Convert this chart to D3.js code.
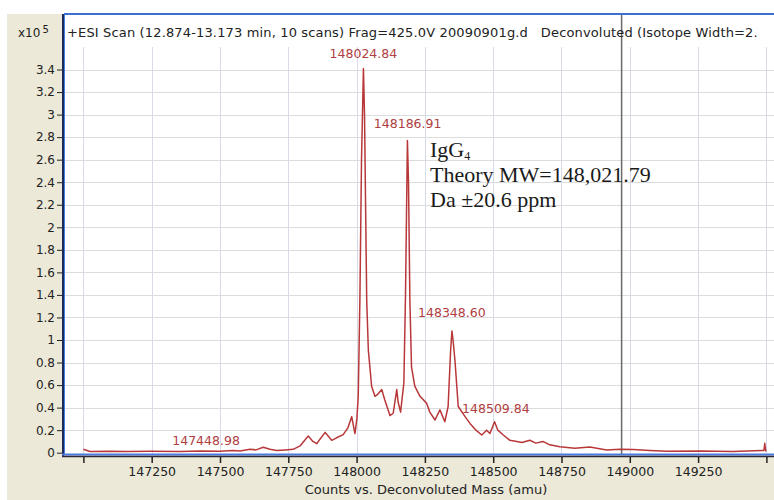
<!DOCTYPE html>
<html>
<head>
<meta charset="utf-8">
<script src="https://cdn.jsdelivr.net/npm/d3@7"></script>
<style>
  body { margin: 0; background: #fff; }
  svg { display: block; }
</style>
</head>
<body>
<div id="viz"></div>
<script>
// deconvoluted mass spectrum, intensity in units of 10^5 counts
const mass = [
  147000, 147024, 147097, 147158, 147244, 147354, 147427, 147500, 147548, 147573,
  147610, 147632, 147658, 147683, 147707, 147738, 147768, 147793, 147823, 147840,
  147854, 147866, 147885, 147909, 147925, 147951, 147968, 147982, 147994, 148001,
  148006, 148012, 148018, 148025, 148029, 148037, 148043, 148055, 148067, 148078,
  148092, 148103, 148122, 148134, 148147, 148152, 148161, 148173, 148179, 148186,
  148190, 148195, 148201, 148213, 148232, 148256, 148268, 148287, 148305, 148323,
  148335, 148344, 148349, 148353, 148360, 148372, 148397, 148415, 148437, 148458,
  148476, 148488, 148505, 148517, 148537, 148561, 148586, 148605, 148634, 148656,
  148682, 148707, 148744, 148799, 148854, 148915, 148964, 149012, 149074, 149135,
  149257, 149378, 149483, 149491, 149494, 149498
];
const counts = [
  0.03, 0.01, 0.012, 0.01, 0.012, 0.01, 0.014, 0.012, 0.02, 0.016,
  0.03, 0.025, 0.048, 0.03, 0.02, 0.025, 0.03, 0.06, 0.148, 0.1,
  0.08, 0.12, 0.18, 0.11, 0.13, 0.16, 0.22, 0.32, 0.17, 0.3,
  0.5, 1.35, 2.6, 3.41, 3.0, 1.35, 0.91, 0.59, 0.5, 0.52,
  0.56, 0.47, 0.33, 0.35, 0.56, 0.45, 0.36, 0.62, 1.4, 2.77,
  2.4, 1.35, 0.76, 0.59, 0.5, 0.44, 0.36, 0.29, 0.38, 0.275,
  0.41, 0.9, 1.08, 1.0, 0.82, 0.41, 0.32, 0.26, 0.2, 0.157,
  0.2, 0.17, 0.275, 0.2, 0.157, 0.11, 0.1, 0.09, 0.11, 0.085,
  0.1, 0.07, 0.053, 0.04, 0.05, 0.024, 0.03, 0.028, 0.02, 0.012,
  0.015, 0.01, 0.02, 0.02, 0.083, 0.01
];

// labelled peaks
const peakMass = [147448.98, 148024.84, 148186.91, 148348.60, 148509.84];
const peakLabel = ["147448.98", "148024.84", "148186.91", "148348.60", "148509.84"];
const peakLabelY = [0.07, 3.5, 2.88, 1.2, 0.35];

const xTicks = [147000, 147250, 147500, 147750, 148000, 148250, 148500, 148750, 149000, 149250, 149500];
const xTickLabels = ["", "147250", "147500", "147750", "148000", "148250", "148500", "148750", "149000", "149250", ""];
const yTicks = [0, 0.2, 0.4, 0.6, 0.8, 1, 1.2, 1.4, 1.6, 1.8, 2, 2.2, 2.4, 2.6, 2.8, 3, 3.2, 3.4];
const cursorMass = 148970;

const title = "+ESI Scan (12.874-13.173 min, 10 scans) Frag=425.0V 20090901g.d   Deconvoluted (Isotope Width=2.";
const xTitle = "Counts vs. Deconvoluted Mass (amu)";

const W = 774, H = 500;
const plot = {left: 64, top: 14, right: 774, bottom: 455};

const svg = d3.select("#viz").append("svg")
    .attr("width", W)
    .attr("height", H)
    .style("font-family", "'DejaVu Sans', sans-serif");

const x = d3.scaleLinear().domain([147000, 149500]).range([83.4, 766.4]);
const y = d3.scaleLinear().domain([0, 1]).range([452.7, 340]);

// panel backgrounds
svg.append("rect").attr("x", 7).attr("y", plot.top).attr("width", W - 7).attr("height", H - plot.top)
    .attr("fill", "#ece9d8");
svg.append("rect").attr("x", plot.left).attr("y", plot.top)
    .attr("width", plot.right - plot.left).attr("height", plot.bottom - plot.top)
    .attr("fill", "#fff");

svg.append("defs").append("clipPath").attr("id", "clip")
  .append("rect").attr("x", plot.left).attr("y", plot.top)
    .attr("width", plot.right - plot.left).attr("height", plot.bottom - plot.top);

// grid
svg.append("g").selectAll("line").data(yTicks.filter(d => d > 0)).join("line")
    .attr("x1", plot.left).attr("x2", plot.right)
    .attr("y1", d => Math.round(y(d)) + 0.5).attr("y2", d => Math.round(y(d)) + 0.5)
    .attr("stroke", "#dcdcdc");
svg.append("g").selectAll("line").data(xTicks).join("line")
    .attr("x1", d => Math.round(x(d)) + 0.5).attr("x2", d => Math.round(x(d)) + 0.5)
    .attr("y1", 47).attr("y2", plot.bottom)
    .attr("stroke", "#d8dae8");

// cursor line
svg.append("line")
    .attr("x1", x(cursorMass)).attr("x2", x(cursorMass))
    .attr("y1", plot.top).attr("y2", plot.bottom)
    .attr("stroke", "#6a6a6a").attr("stroke-width", 1.5);

// spectrum
const data = mass.map((m, i) => ({m, v: counts[i]}));
const line = d3.line().x(d => x(d.m)).y(d => y(d.v));
svg.append("path")
    .datum(data)
    .attr("clip-path", "url(#clip)")
    .attr("d", line)
    .attr("fill", "none")
    .attr("stroke", "#b8383a")
    .attr("stroke-width", 1.5)
    .attr("stroke-linejoin", "round");

// peak labels
svg.append("g").selectAll("text").data(peakMass).join("text")
    .attr("x", d => x(d))
    .attr("y", (d, i) => y(peakLabelY[i]))
    .attr("text-anchor", "middle")
    .attr("font-size", 12.5)
    .attr("fill", "#b0403f")
    .text((d, i) => peakLabel[i]);

// frame borders
svg.append("line").attr("x1", plot.left).attr("x2", W).attr("y1", plot.top).attr("y2", plot.top)
    .attr("stroke", "#3b6fd6").attr("stroke-width", 2);
svg.append("line").attr("x1", plot.left - 1).attr("x2", plot.left - 1).attr("y1", plot.top).attr("y2", plot.bottom + 2)
    .attr("stroke", "#1c2a5a").attr("stroke-width", 2);
svg.append("line").attr("x1", plot.left + 0.5).attr("x2", plot.left + 0.5).attr("y1", plot.top).attr("y2", plot.bottom)
    .attr("stroke", "#4a7be0").attr("stroke-width", 1);
svg.append("line").attr("x1", plot.left - 2).attr("x2", W).attr("y1", plot.bottom - 0.5).attr("y2", plot.bottom - 0.5)
    .attr("stroke", "#4a7be0").attr("stroke-width", 2);
svg.append("line").attr("x1", plot.left - 2).attr("x2", W).attr("y1", plot.bottom + 1.5).attr("y2", plot.bottom + 1.5)
    .attr("stroke", "#2a2a3a").attr("stroke-width", 1.5);

// y axis
const yAxis = svg.append("g")
    .attr("transform", `translate(${plot.left - 2},0)`)
    .call(d3.axisLeft(y).tickValues(yTicks).tickSize(5).tickPadding(2).tickFormat(d3.format("~g")));
yAxis.select(".domain").remove();
yAxis.selectAll("line").attr("stroke", "#222");
yAxis.selectAll("text").attr("font-size", 12).attr("fill", "#222").attr("font-family", "'DejaVu Sans', sans-serif");

// x axis
const xAxis = svg.append("g")
    .attr("transform", `translate(0,${plot.bottom + 2})`)
    .call(d3.axisBottom(x).tickValues(xTicks).tickSize(6).tickPadding(4).tickFormat((d, i) => xTickLabels[i]));
xAxis.select(".domain").remove();
xAxis.selectAll("line").attr("stroke", "#222").attr("stroke-width", 1.5);
xAxis.selectAll("text").attr("font-size", 12.5).attr("fill", "#222").attr("font-family", "'DejaVu Sans', sans-serif");

// axis title
svg.append("text")
    .attr("x", 426).attr("y", 494)
    .attr("text-anchor", "middle")
    .attr("font-size", 13).attr("fill", "#222")
    .text(xTitle);

// x10^5 multiplier
const mult = svg.append("text").attr("x", 18).attr("y", 37).attr("font-size", 12).attr("fill", "#222");
mult.append("tspan").text("x10");
mult.append("tspan").attr("dx", 2).attr("dy", -4).attr("font-size", 10).text("5");

// scan title
svg.append("text")
    .attr("x", 67).attr("y", 37)
    .attr("font-size", 13).attr("letter-spacing", 0.15)
    .style("white-space", "pre")
    .attr("fill", "#222")
    .text(title);

// annotation
const note = svg.append("g")
    .attr("font-family", "'Liberation Serif', 'Times New Roman', serif")
    .attr("font-size", 22)
    .attr("fill", "#1a1a1a");
const t1 = note.append("text").attr("x", 430).attr("y", 157);
t1.append("tspan").text("IgG");
t1.append("tspan").attr("dy", 3).attr("font-size", 12).text("4");
note.append("text").attr("x", 430).attr("y", 182).text("Theory MW=148,021.79");
note.append("text").attr("x", 430).attr("y", 207).text("Da ±20.6 ppm");
</script>
</body>
</html>
